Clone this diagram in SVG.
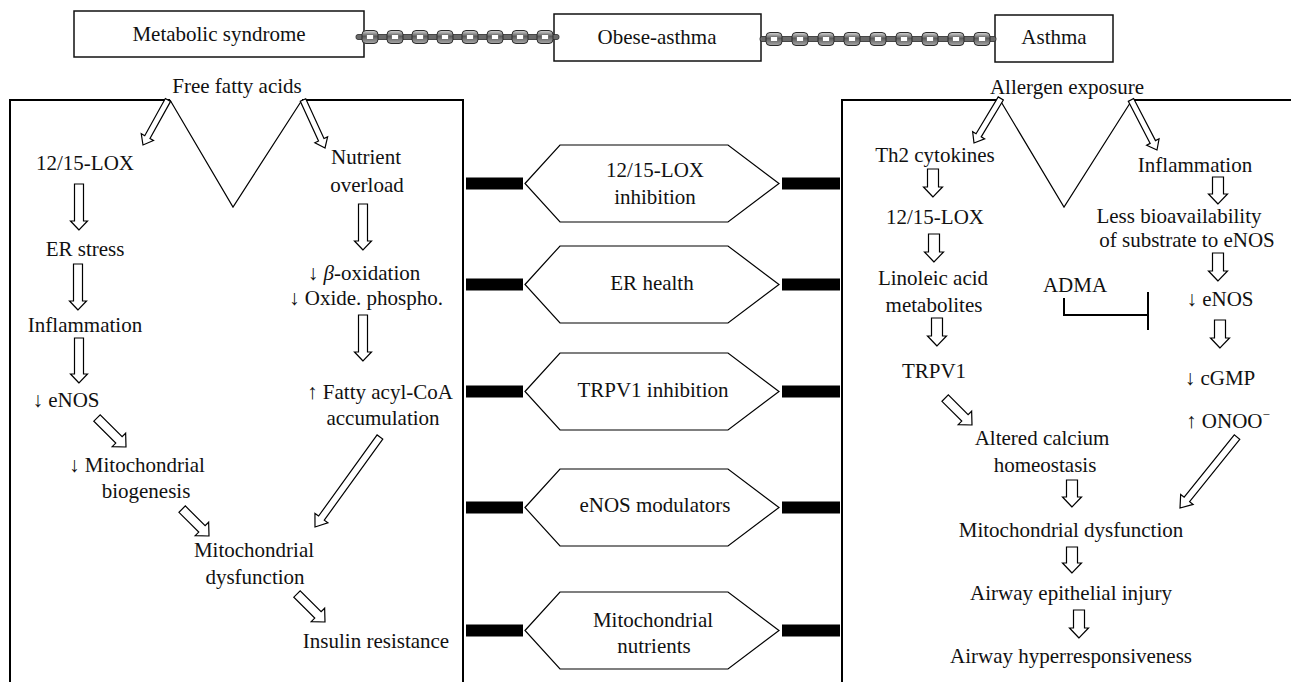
<svg xmlns="http://www.w3.org/2000/svg" xmlns:xlink="http://www.w3.org/1999/xlink" width="1291" height="682" viewBox="0 0 1291 682">
<style>
text{font-family:"Liberation Serif","Times New Roman",serif;font-size:21px;fill:#111;text-anchor:middle}
.box{fill:#fff;stroke:#111;stroke-width:1.5}
.frame{fill:none;stroke:#000;stroke-width:2}
.vee{fill:none;stroke:#000;stroke-width:1.2}
.arr{fill:#fff;stroke:#000;stroke-width:1.2;stroke-linejoin:miter}
.hex{fill:#fff;stroke:#000;stroke-width:1.2}
.bar{fill:#000}
.inh{fill:none;stroke:#000;stroke-width:2}
.cbar{fill:#6a6a6a;stroke:#2a2a2a;stroke-width:0.8}
</style>
<defs>
<linearGradient id="lg" x1="0" y1="0" x2="0" y2="1">
<stop offset="0" stop-color="#d8d8d8"/>
<stop offset="0.45" stop-color="#5a5a5a"/>
<stop offset="1" stop-color="#a8a8a8"/>
</linearGradient>
<g id="link">
<rect x="0" y="-6.5" width="16" height="13" rx="4" fill="url(#lg)" stroke="#2a2a2a" stroke-width="1"/>
<rect x="4.5" y="-2.5" width="7" height="5" rx="1" fill="#fff" stroke="#444" stroke-width="0.6"/>
</g>
</defs>

<g id="node-metabolic"><rect class="box" x="74" y="11" width="290" height="46"/><text x="219" y="41">Metabolic syndrome</text></g>
<g id="node-obese"><rect class="box" x="554" y="14" width="207" height="47"/><text x="657" y="44">Obese-asthma</text></g>
<g id="node-asthma"><rect class="box" x="995" y="15" width="118" height="47"/><text x="1054" y="44">Asthma</text></g>

<g id="chain1">
<rect class="cbar" x="356" y="34.5" width="203" height="5" rx="2"/>
<use xlink:href="#link" x="362" y="37"/><use xlink:href="#link" x="387" y="37"/><use xlink:href="#link" x="412" y="37"/><use xlink:href="#link" x="437" y="37"/>
<use xlink:href="#link" x="462" y="37"/><use xlink:href="#link" x="487" y="37"/><use xlink:href="#link" x="512" y="37"/><use xlink:href="#link" x="537" y="37"/>
</g>
<g id="chain2">
<rect class="cbar" x="760" y="36.5" width="236" height="5" rx="2"/>
<use xlink:href="#link" x="766" y="39"/><use xlink:href="#link" x="792" y="39"/><use xlink:href="#link" x="818" y="39"/><use xlink:href="#link" x="844" y="39"/>
<use xlink:href="#link" x="870" y="39"/><use xlink:href="#link" x="896" y="39"/><use xlink:href="#link" x="922" y="39"/><use xlink:href="#link" x="948" y="39"/><use xlink:href="#link" x="974" y="39"/>
</g>

<g id="left-panel">
<path class="frame" d="M10,682 V100 H170 M302,100 H463 V682"/>
<path class="vee" d="M170,100 L233,207 L302,100"/>
<text x="237" y="93">Free fatty acids</text>
</g>
<g id="right-panel">
<path class="frame" d="M842,682 V100 H1000 M1132,100 H1291"/>
<path class="vee" d="M1000,100 L1064,207 L1132,100"/>
<text x="1067" y="94">Allergen exposure</text>
</g>

<g id="left-nodes">
<g id="l-lox"><text x="85" y="170">12/15-LOX</text></g>
<g id="l-er"><text x="85" y="256">ER stress</text></g>
<g id="l-infl"><text x="85" y="332">Inflammation</text></g>
<g id="l-enos"><text x="66" y="407">↓ eNOS</text></g>
<g id="l-mitob"><text x="137" y="472">↓ Mitochondrial</text><text x="146" y="498">biogenesis</text></g>
<g id="l-mitod"><text x="254" y="557">Mitochondrial</text><text x="255" y="584">dysfunction</text></g>
<g id="l-ins"><text x="376" y="648">Insulin resistance</text></g>
<g id="l-nutr"><text x="366" y="164">Nutrient</text><text x="367" y="192">overload</text></g>
<g id="l-beta"><text x="364" y="280">↓ <tspan font-style="italic">β</tspan>-oxidation</text><text x="366" y="305">↓ Oxide. phospho.</text></g>
<g id="l-fatty"><text x="380" y="399">↑ Fatty acyl-CoA</text><text x="383" y="425">accumulation</text></g>
</g>

<g id="right-nodes">
<g id="r-th2"><text x="935" y="162">Th2 cytokines</text></g>
<g id="r-lox"><text x="935" y="224">12/15-LOX</text></g>
<g id="r-lin"><text x="933" y="285">Linoleic acid</text><text x="934" y="312">metabolites</text></g>
<g id="r-trpv"><text x="934" y="378">TRPV1</text></g>
<g id="r-calc"><text x="1042" y="445">Altered calcium</text><text x="1045" y="472">homeostasis</text></g>
<g id="r-mito"><text x="1071" y="537">Mitochondrial dysfunction</text></g>
<g id="r-epi"><text x="1071" y="600">Airway epithelial injury</text></g>
<g id="r-hyper"><text x="1071" y="663">Airway hyperresponsiveness</text></g>
<g id="r-infl"><text x="1195" y="172">Inflammation</text></g>
<g id="r-less"><text x="1179" y="223">Less bioavailability</text><text x="1187" y="247">of substrate to eNOS</text></g>
<g id="r-adma"><text x="1075" y="292">ADMA</text></g>
<g id="r-enos"><text x="1220" y="306">↓ eNOS</text></g>
<g id="r-cgmp"><text x="1220" y="385">↓ cGMP</text></g>
<g id="r-onoo"><text x="1228" y="428">↑ ONOO<tspan font-size="13" dy="-9">−</tspan></text></g>
</g>

<g id="center-nodes">
<g id="hex-lox"><rect class="bar" x="466" y="177.5" width="57" height="12"/><rect class="bar" x="782" y="177.5" width="58" height="12"/><path class="hex" d="M525,183.5 L560,145 H728 L779,183.5 L728,222 H560 Z"/><text x="655" y="177">12/15-LOX</text><text x="655" y="204">inhibition</text></g>
<g id="hex-er"><rect class="bar" x="466" y="278.5" width="57" height="12"/><rect class="bar" x="782" y="278.5" width="58" height="12"/><path class="hex" d="M525,284.5 L560,246 H728 L779,284.5 L728,323 H560 Z"/><text x="652" y="290">ER health</text></g>
<g id="hex-trpv"><rect class="bar" x="466" y="385.5" width="57" height="12"/><rect class="bar" x="782" y="385.5" width="58" height="12"/><path class="hex" d="M525,391.5 L560,353 H728 L779,391.5 L728,430 H560 Z"/><text x="653" y="397">TRPV1 inhibition</text></g>
<g id="hex-enos"><rect class="bar" x="466" y="501.5" width="57" height="12"/><rect class="bar" x="782" y="501.5" width="58" height="12"/><path class="hex" d="M525,507.5 L560,469 H728 L779,507.5 L728,546 H560 Z"/><text x="655" y="512">eNOS modulators</text></g>
<g id="hex-mito"><rect class="bar" x="466" y="624.5" width="57" height="12"/><rect class="bar" x="782" y="624.5" width="58" height="12"/><path class="hex" d="M525,630.5 L560,592 H728 L779,630.5 L728,669 H560 Z"/><text x="653" y="627">Mitochondrial</text><text x="654" y="653">nutrients</text></g>
</g>

<g id="connectors">
<path class="arr" transform="translate(143,145) rotate(29)" d="M0,0 L-7,-9 L-3,-9 L-3,-51.5 L3,-51.5 L3,-9 L7,-9 Z"/>
<path class="arr" transform="translate(325,148) rotate(-24.6)" d="M0,0 L-7,-9 L-3,-9 L-3,-52.8 L3,-52.8 L3,-9 L7,-9 Z"/>
<path class="arr" transform="translate(79,230)" d="M0,0 L-8.5,-9 L-4.5,-9 L-4.5,-46 L4.5,-46 L4.5,-9 L8.5,-9 Z"/>
<path class="arr" transform="translate(78,310)" d="M0,0 L-8.5,-9 L-4.5,-9 L-4.5,-46 L4.5,-46 L4.5,-9 L8.5,-9 Z"/>
<path class="arr" transform="translate(79,383)" d="M0,0 L-8.5,-9 L-4.5,-9 L-4.5,-45 L4.5,-45 L4.5,-9 L8.5,-9 Z"/>
<path class="arr" transform="translate(126,447) rotate(-45)" d="M0,0 L-9.5,-10 L-4.5,-10 L-4.5,-41 L4.5,-41 L4.5,-10 L9.5,-10 Z"/>
<path class="arr" transform="translate(209,536) rotate(-45)" d="M0,0 L-9.5,-10 L-4.5,-10 L-4.5,-38 L4.5,-38 L4.5,-10 L9.5,-10 Z"/>
<path class="arr" transform="translate(325,622) rotate(-45)" d="M0,0 L-9.5,-10 L-4.5,-10 L-4.5,-39.6 L4.5,-39.6 L4.5,-10 L9.5,-10 Z"/>
<path class="arr" transform="translate(315,527) rotate(35.8)" d="M0,0 L-8,-11 L-3.5,-11 L-3.5,-111 L3.5,-111 L3.5,-11 L8,-11 Z"/>
<path class="arr" transform="translate(363,250)" d="M0,0 L-8.5,-9 L-4.5,-9 L-4.5,-46 L4.5,-46 L4.5,-9 L8.5,-9 Z"/>
<path class="arr" transform="translate(363,361)" d="M0,0 L-8.5,-9 L-4.5,-9 L-4.5,-46 L4.5,-46 L4.5,-9 L8.5,-9 Z"/>
<path class="arr" transform="translate(974,143) rotate(31)" d="M0,0 L-7,-9 L-3,-9 L-3,-52 L3,-52 L3,-9 L7,-9 Z"/>
<path class="arr" transform="translate(1157,150) rotate(-27.5)" d="M0,0 L-7,-9 L-3,-9 L-3,-56.4 L3,-56.4 L3,-9 L7,-9 Z"/>
<path class="arr" transform="translate(933,197)" d="M0,0 L-9.5,-10 L-5.5,-10 L-5.5,-28 L5.5,-28 L5.5,-10 L9.5,-10 Z"/>
<path class="arr" transform="translate(934,262)" d="M0,0 L-9.5,-10 L-5.5,-10 L-5.5,-28 L5.5,-28 L5.5,-10 L9.5,-10 Z"/>
<path class="arr" transform="translate(937,346)" d="M0,0 L-9.5,-10 L-5.5,-10 L-5.5,-28 L5.5,-28 L5.5,-10 L9.5,-10 Z"/>
<path class="arr" transform="translate(972,425) rotate(-45)" d="M0,0 L-9.5,-10 L-4.5,-10 L-4.5,-38 L4.5,-38 L4.5,-10 L9.5,-10 Z"/>
<path class="arr" transform="translate(1072,507)" d="M0,0 L-9.5,-10 L-5.5,-10 L-5.5,-27 L5.5,-27 L5.5,-10 L9.5,-10 Z"/>
<path class="arr" transform="translate(1072,573)" d="M0,0 L-9.5,-10 L-5.5,-10 L-5.5,-26 L5.5,-26 L5.5,-10 L9.5,-10 Z"/>
<path class="arr" transform="translate(1079,638)" d="M0,0 L-9.5,-10 L-5.5,-10 L-5.5,-28 L5.5,-28 L5.5,-10 L9.5,-10 Z"/>
<path class="arr" transform="translate(1180,508) rotate(38.8)" d="M0,0 L-8,-11 L-3.5,-11 L-3.5,-91 L3.5,-91 L3.5,-11 L8,-11 Z"/>
<path class="arr" transform="translate(1218,204)" d="M0,0 L-9.5,-10 L-5.5,-10 L-5.5,-27 L5.5,-27 L5.5,-10 L9.5,-10 Z"/>
<path class="arr" transform="translate(1218,281)" d="M0,0 L-9.5,-10 L-5.5,-10 L-5.5,-28 L5.5,-28 L5.5,-10 L9.5,-10 Z"/>
<path class="arr" transform="translate(1220,348)" d="M0,0 L-9.5,-10 L-5.5,-10 L-5.5,-28 L5.5,-28 L5.5,-10 L9.5,-10 Z"/>
<path class="inh" d="M1064,298 V315 H1148 M1148,292 V330"/>
</g>
</svg>
